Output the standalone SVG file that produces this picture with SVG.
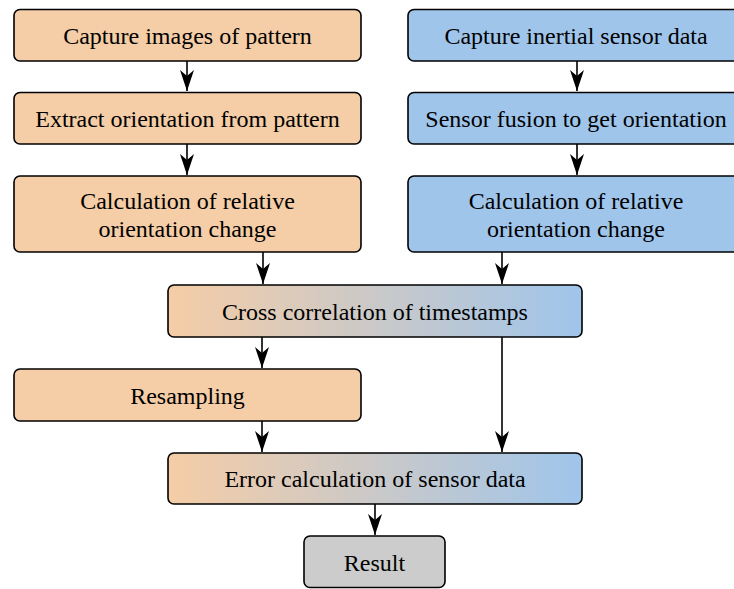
<svg xmlns="http://www.w3.org/2000/svg" width="734" height="589" viewBox="0 0 734 589">
<style>
.box{stroke:#000;stroke-width:1.6}
.o{fill:#F5CDA6}
.b{fill:#9FC5EB}
.g{fill:#CCCCCC}
.gr{fill:url(#grad)}
text{font-family:"Liberation Serif","Times New Roman",serif;font-size:24px;fill:#000;text-anchor:middle;dominant-baseline:central}
.c{stroke:#000;stroke-width:1.6;fill:none;marker-end:url(#ah)}
</style>
<defs>
<linearGradient id="grad" x1="0" y1="0" x2="1" y2="0">
<stop offset="0" stop-color="#F5CDA6"/>
<stop offset="1" stop-color="#9FC5EB"/>
</linearGradient>
<marker id="ah" markerUnits="userSpaceOnUse" markerWidth="24" markerHeight="16" refX="22" refY="8" orient="auto" viewBox="0 0 24 16">
<path d="M22 8 L1 1 L7 8 L1 15 Z" fill="#000"/>
</marker>
</defs>
<g id="connectors">
<path class="c" d="M187 61 V91"/>
<path class="c" d="M187 144 V175"/>
<path class="c" d="M577 61 V91"/>
<path class="c" d="M577 144 V175"/>
<path class="c" d="M263 252 V284"/>
<path class="c" d="M502 252 V284"/>
<path class="c" d="M262 337 V368"/>
<path class="c" d="M502 337 V452"/>
<path class="c" d="M262 421 V452"/>
<path class="c" d="M375 504 V535"/>
</g>
<g id="n1"><rect class="box o" x="14" y="9.5" width="347" height="51.5" rx="6"/><text x="187.5" y="36">Capture images of pattern</text></g>
<g id="n2"><rect class="box o" x="14" y="92.5" width="347" height="51.5" rx="6"/><text x="187.5" y="119">Extract orientation from pattern</text></g>
<g id="n3"><rect class="box o" x="14" y="176" width="347" height="76" rx="6"/><text x="187.5" y="201">Calculation of relative</text><text x="187.5" y="229">orientation change</text></g>
<g id="n4"><rect class="box b" x="408" y="9.5" width="336" height="51.5" rx="6"/><text x="576" y="36">Capture inertial sensor data</text></g>
<g id="n5"><rect class="box b" x="408" y="92.5" width="336" height="51.5" rx="6"/><text x="576" y="119">Sensor fusion to get orientation</text></g>
<g id="n6"><rect class="box b" x="408" y="176" width="336" height="76" rx="6"/><text x="576" y="201">Calculation of relative</text><text x="576" y="229">orientation change</text></g>
<g id="n7"><rect class="box gr" x="168" y="285" width="414" height="52" rx="6"/><text x="375" y="312">Cross correlation of timestamps</text></g>
<g id="n8"><rect class="box o" x="14" y="369" width="347" height="52" rx="6"/><text x="187.5" y="396">Resampling</text></g>
<g id="n9"><rect class="box gr" x="168" y="453" width="414" height="51" rx="6"/><text x="375" y="479">Error calculation of sensor data</text></g>
<g id="n10"><rect class="box g" x="304" y="536" width="141" height="51.5" rx="6"/><text x="374.5" y="563">Result</text></g>
</svg>
